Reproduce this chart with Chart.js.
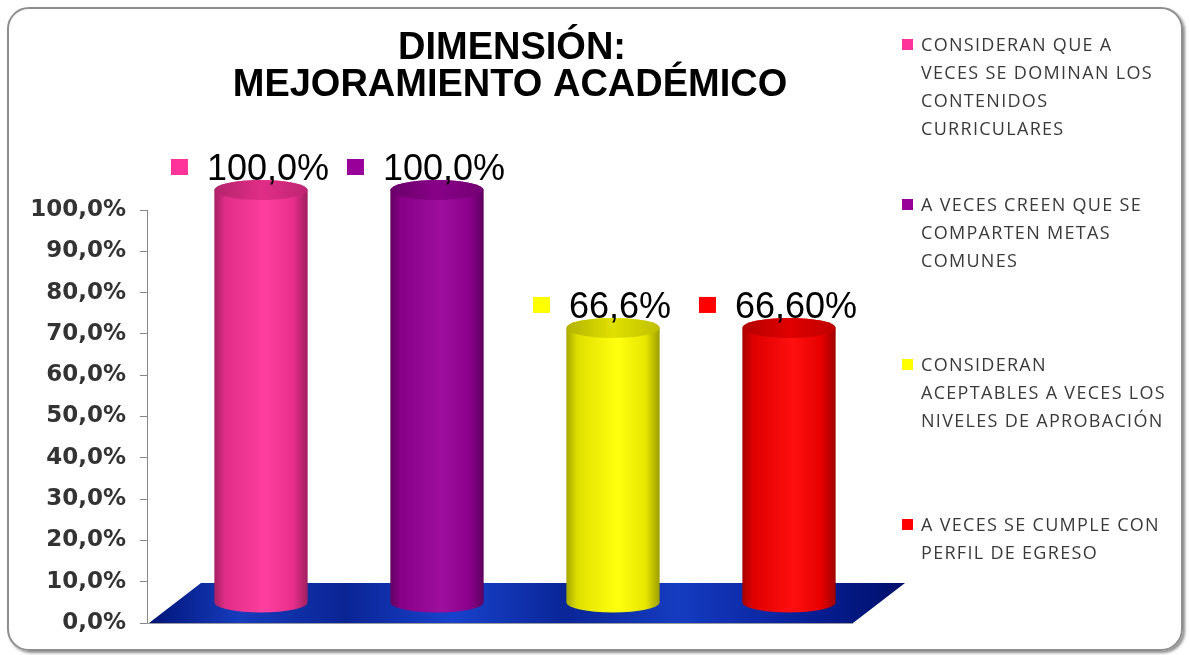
<!DOCTYPE html>
<html lang="es">
<head>
<meta charset="utf-8">
<title>Dimensión: Mejoramiento Académico</title>
<script src="https://cdn.jsdelivr.net/npm/chart.js@4/dist/chart.umd.min.js"></script>
<style>
  body { margin: 0; background: #fff; }
  #wrap { position: relative; width: 1190px; height: 655px; overflow: hidden; }
  #frame {
    position: absolute; left: 7px; top: 7px; width: 1172px; height: 640px;
    border: 2px solid #8e8e8e; border-radius: 22px;
    box-shadow: 2px 2px 3px rgba(0, 0, 0, 0.45);
  }
  #chart { position: absolute; left: 0; top: 0; }
</style>
</head>
<body>
<div id="wrap">
  <div id="frame"></div>
  <canvas id="chart" width="1190" height="655"></canvas>
</div>
<script>
// Chart data
const categories = [
  ['CONSIDERAN QUE A', 'VECES SE DOMINAN LOS', 'CONTENIDOS', 'CURRICULARES'],
  ['A VECES CREEN QUE SE', 'COMPARTEN METAS', 'COMUNES'],
  ['CONSIDERAN', 'ACEPTABLES A VECES LOS', 'NIVELES DE APROBACIÓN'],
  ['A VECES SE CUMPLE CON', 'PERFIL DE EGRESO']
];
const values = [100, 100, 66.6, 66.6];
const valueLabels = ['100,0%', '100,0%', '66,6%', '66,60%'];
const colors = ['#ff3399', '#990099', '#ffff00', '#ff0000'];
const titleLines = ['DIMENSIÓN:', 'MEJORAMIENTO ACADÉMICO'];
const yTicks = [0, 10, 20, 30, 40, 50, 60, 70, 80, 90, 100];

// depth of the 3D floor
const depthX = 52;
const depthY = 40;

// darken / lighten a hex colour
function shade(hex, f) {
  const n = parseInt(hex.slice(1), 16);
  let r = (n >> 16) & 255, g = (n >> 8) & 255, b = n & 255;
  if (f < 0) {
    r = Math.round(r * (1 + f)); g = Math.round(g * (1 + f)); b = Math.round(b * (1 + f));
  } else {
    r = Math.round(r + (255 - r) * f); g = Math.round(g + (255 - g) * f); b = Math.round(b + (255 - b) * f);
  }
  return `rgb(${r},${g},${b})`;
}

// blue floor under the bars
const floorPlugin = {
  id: 'floor',
  beforeDatasetsDraw(chart) {
    const { ctx, chartArea } = chart;
    const l = chartArea.left + 2, r = chartArea.right + 2, b = chartArea.bottom;
    ctx.save();
    const grad = ctx.createLinearGradient(l, 0, r + depthX, 0);
    grad.addColorStop(0, '#001478');
    grad.addColorStop(0.12, '#163cbc');
    grad.addColorStop(0.26, '#0a2494');
    grad.addColorStop(0.4, '#1842cc');
    grad.addColorStop(0.55, '#0a2698');
    grad.addColorStop(0.7, '#153cc0');
    grad.addColorStop(0.86, '#08209a');
    grad.addColorStop(1, '#00106a');
    ctx.beginPath();
    ctx.moveTo(l, b);
    ctx.lineTo(r, b);
    ctx.lineTo(r + depthX, b - depthY);
    ctx.lineTo(l + depthX, b - depthY);
    ctx.closePath();
    ctx.fillStyle = grad;
    ctx.fill();
    ctx.strokeStyle = '#9a9a9a';
    ctx.lineWidth = 1;
    ctx.beginPath();
    ctx.moveTo(chartArea.left, b + 0.5);
    ctx.lineTo(r, b + 0.5);
    ctx.stroke();
    ctx.restore();
  }
};

// cylinders, value labels, title and legend
const cylinderPlugin = {
  id: 'cylinders',
  afterDatasetsDraw(chart) {
    const { ctx } = chart;
    const meta = chart.getDatasetMeta(0);
    meta.data.forEach((bar, i) => {
      const cx = bar.x + depthX / 2;
      const rx = bar.width / 2;
      const ry = 10;
      const top = bar.y - depthY / 2;
      const bottom = bar.base - depthY / 2;
      const c = colors[i];
      ctx.save();
      const body = ctx.createLinearGradient(cx - rx, 0, cx + rx, 0);
      body.addColorStop(0, shade(c, -0.35));
      body.addColorStop(0.12, shade(c, -0.12));
      body.addColorStop(0.55, shade(c, 0.06));
      body.addColorStop(0.85, shade(c, -0.1));
      body.addColorStop(1, shade(c, -0.38));
      ctx.beginPath();
      ctx.moveTo(cx - rx, top);
      ctx.lineTo(cx - rx, bottom);
      ctx.ellipse(cx, bottom, rx, ry, 0, Math.PI, 0, true);
      ctx.lineTo(cx + rx, top);
      ctx.ellipse(cx, top, rx, ry, 0, 0, Math.PI, true);
      ctx.closePath();
      ctx.fillStyle = body;
      ctx.fill();
      const cap = ctx.createLinearGradient(cx - rx, 0, cx + rx, 0);
      cap.addColorStop(0, shade(c, -0.3));
      cap.addColorStop(0.5, shade(c, -0.12));
      cap.addColorStop(1, shade(c, -0.25));
      ctx.beginPath();
      ctx.ellipse(cx, top, rx, ry, 0, 0, Math.PI * 2);
      ctx.fillStyle = cap;
      ctx.fill();

      // value label with legend key
      ctx.font = '36px "Liberation Sans", Arial, sans-serif';
      ctx.textBaseline = 'middle';
      ctx.textAlign = 'left';
      const tw = ctx.measureText(valueLabels[i]).width;
      const tx = cx + 7 - tw / 2;
      const ty = bar.y - 41;
      ctx.fillStyle = c;
      ctx.fillRect(tx - 36, ty - 10, 17, 16);
      ctx.fillStyle = '#000';
      ctx.fillText(valueLabels[i], tx, ty + 1);
      ctx.restore();
    });
  },
  afterDraw(chart) {
    const { ctx } = chart;
    ctx.save();
    // title
    ctx.fillStyle = '#000';
    ctx.textAlign = 'center';
    ctx.textBaseline = 'alphabetic';
    ctx.font = 'bold 38px "Liberation Sans", Arial, sans-serif';
    ctx.fillText(titleLines[0], 512, 59);
    ctx.fillText(titleLines[1], 510, 96);
    // legend
    ctx.textAlign = 'left';
    ctx.font = '18px "Open Sans", sans-serif';
    ctx.letterSpacing = '1.3px';
    categories.forEach((lines, i) => {
      const y0 = 51 + i * 160;
      ctx.fillStyle = colors[i];
      ctx.fillRect(902, y0 - 12, 11, 11);
      ctx.fillStyle = '#3a3a3a';
      lines.forEach((t, k) => ctx.fillText(t, 921, y0 + k * 28));
    });
    ctx.restore();
  }
};

const ctx = document.getElementById('chart').getContext('2d');
new Chart(ctx, {
  type: 'bar',
  data: {
    labels: categories.map((c) => c.join(' ')),
    datasets: [{
      data: values,
      backgroundColor: 'rgba(0,0,0,0)',
      borderWidth: 0,
      barPercentage: 0.53,
      categoryPercentage: 1
    }]
  },
  options: {
    responsive: false,
    animation: false,
    layout: { padding: { left: 0, right: 339, top: 210, bottom: 32 } },
    plugins: {
      legend: { display: false },
      tooltip: { enabled: false }
    },
    scales: {
      x: { display: false },
      y: {
        min: 0,
        max: 100,
        afterFit: (scale) => { scale.width = 147; },
        afterBuildTicks: (scale) => { scale.ticks = yTicks.map((v) => ({ value: v })); },
        ticks: {
          padding: 14,
          color: '#333',
          font: { family: '"DejaVu Sans", Verdana, sans-serif', size: 23, weight: 'bold' },
          callback: (v) => v.toFixed(1).replace('.', ',') + '%'
        },
        grid: { drawOnChartArea: false, drawTicks: true, tickLength: 7, color: '#888' },
        border: { display: true, color: '#888' }
      }
    }
  },
  plugins: [floorPlugin, cylinderPlugin]
});
</script>
</body>
</html>
